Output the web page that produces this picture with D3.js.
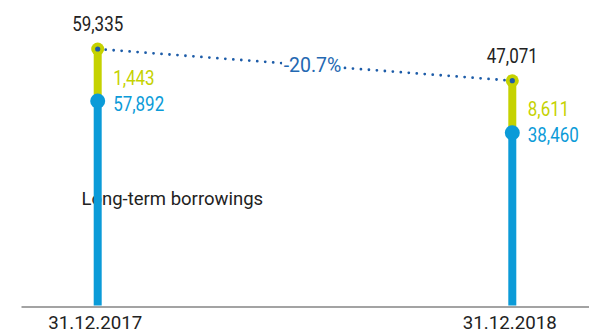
<!DOCTYPE html>
<html>
<head>
<meta charset="utf-8">
<script src="https://cdn.jsdelivr.net/npm/d3@7"></script>
<style>
  html, body { margin: 0; padding: 0; background: #fff; }
  svg { display: block; }
  text { font-family: Roboto, "Noto Sans", sans-serif; }
</style>
</head>
<body>
<svg id="chart" width="589" height="336"></svg>
<script>
// Borrowings at year end (EUR thousand)
const dates = ["31.12.2017", "31.12.2018"];
const longTerm = [57892, 38460];
const shortTerm = [1443, 8611];
const totals = [59335, 47071];
const changeLabel = "-20.7%";
const seriesLabel = "Long-term borrowings";

const W = 589, H = 336;
const baseY = 306.5;
const stackGap = 52;          // drawn length of the short-term segment
const numScale = 0.87;        // condensed look for figures

const colors = {
  short: "#c5d200",
  long: "#0b9bd8",
  link: "#1d5ca8",
  change: "#2468b2",
  text: "#222222",
  axis: "#a3a3a3"
};

const svg = d3.select("#chart");

const x = d3.scalePoint().domain(dates).range([21, W]).padding(0.185);
const y = d3.scaleLinear().domain([20000, 60000]).range([150.7, 47.3]);

const rows = dates.map((d, i) => ({
  date: d, long: longTerm[i], short: shortTerm[i], total: totals[i]
}));
rows.forEach(r => {
  r.cx = x(r.date);
  r.ty = y(r.total);
  r.ly = r.ty + stackGap;
});

// series caption sits underneath the stems
svg.append("text")
  .attr("x", 81.5).attr("y", 205)
  .attr("font-size", 18.5)
  .attr("fill", colors.text)
  .text(seriesLabel);

// axis along the bottom
const axis = svg.append("g")
  .attr("transform", `translate(0,${baseY})`)
  .call(d3.axisBottom(x).tickSize(0).tickSizeOuter(0).tickPadding(9));
axis.select(".domain").attr("stroke", colors.axis).attr("stroke-width", 2);
axis.selectAll(".tick text")
  .attr("font-family", "Roboto, sans-serif")
  .attr("font-size", 18.7)
  .attr("fill", colors.text)
  .attr("dy", "0.71em")
  .attr("dx", -3);

// stems
const g = svg.append("g");
g.selectAll("line.long").data(rows).join("line")
  .attr("class", "long")
  .attr("x1", d => d.cx).attr("x2", d => d.cx)
  .attr("y1", baseY - 1).attr("y2", d => d.ly)
  .attr("stroke", colors.long).attr("stroke-width", 8);
g.selectAll("line.short").data(rows).join("line")
  .attr("class", "short")
  .attr("x1", d => d.cx).attr("x2", d => d.cx)
  .attr("y1", d => d.ly).attr("y2", d => d.ty)
  .attr("stroke", colors.short).attr("stroke-width", 8);

// dotted link between totals
const link = d3.line().x(d => d.cx).y(d => d.ty);
g.append("path")
  .attr("d", link(rows))
  .attr("fill", "none")
  .attr("stroke", colors.link)
  .attr("stroke-width", 2.8)
  .attr("stroke-linecap", "round")
  .attr("stroke-dasharray", "0 8");

// markers
g.selectAll("circle.long").data(rows).join("circle")
  .attr("class", "long")
  .attr("cx", d => d.cx).attr("cy", d => d.ly).attr("r", 7.5)
  .attr("fill", colors.long);
g.selectAll("circle.total").data(rows).join("circle")
  .attr("class", "total")
  .attr("cx", d => d.cx).attr("cy", d => d.ty).attr("r", 6.5)
  .attr("fill", colors.short);
g.selectAll("circle.core").data(rows).join("circle")
  .attr("class", "core")
  .attr("cx", d => d.cx).attr("cy", d => d.ty).attr("r", 2.6)
  .attr("fill", colors.link);

const fmt = d3.format(",");
function numLabel(sel, px, py, anchor, color, txt) {
  sel.append("text")
    .attr("transform", `translate(${px},${py}) scale(${numScale},1)`)
    .attr("text-anchor", anchor)
    .attr("font-size", 19.5)
    .attr("fill", color)
    .text(txt);
}

rows.forEach(r => {
  numLabel(svg, r.cx, r.ty - 18, "middle", colors.text, fmt(r.total));
  numLabel(svg, r.cx + 15.5, r.ly - 16.5, "start", colors.short, fmt(r.short));
  numLabel(svg, r.cx + 15.5, r.ly + 9.5, "start", colors.long, fmt(r.long));
});

// change label on the link
const mx = 312.5;
const my = rows[0].ty + (rows[1].ty - rows[0].ty) * (mx - rows[0].cx) / (rows[1].cx - rows[0].cx);
const chg = svg.append("g").attr("transform", `translate(${mx},${my})`);
const chgText = chg.append("text")
  .attr("text-anchor", "middle")
  .attr("dy", "0.36em")
  .attr("font-size", 19.5)
  .attr("fill", colors.change)
  .text(changeLabel);
const bb = chgText.node().getBBox();
chg.insert("rect", "text")
  .attr("x", bb.x - 1.5).attr("y", bb.y)
  .attr("width", bb.width + 3).attr("height", bb.height)
  .attr("fill", "#fff");
</script>
</body>
</html>
